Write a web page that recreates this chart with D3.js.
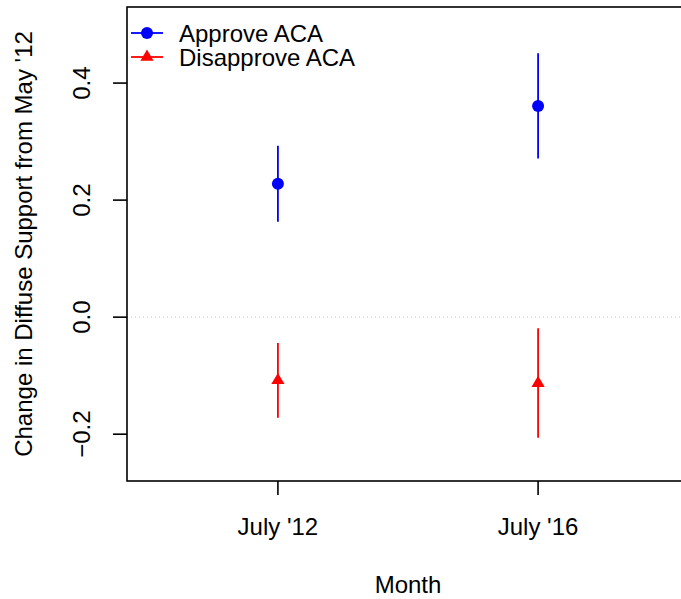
<!DOCTYPE html>
<html>
<head>
<meta charset="utf-8">
<script src="https://cdn.jsdelivr.net/npm/d3@7"></script>
<style>
  body { margin: 0; background: #fff; }
  svg { display: block; font-family: "Liberation Sans", Arial, sans-serif; }
  .tick-label, .axis-title, .legend-label { font-size: 24px; fill: #000; }
</style>
</head>
<body>
<div id="chart"></div>
<script>
// Data
var months = ["July '12", "July '16"];
var groups = ["Approve ACA", "Disapprove ACA"];
var approveEst = [0.228, 0.361];
var approveLow = [0.163, 0.271];
var approveHigh = [0.293, 0.451];
var disapproveEst = [-0.108, -0.113];
var disapproveLow = [-0.172, -0.206];
var disapproveHigh = [-0.044, -0.019];
var yTicks = [-0.2, 0.0, 0.2, 0.4];

var width = 681,
    height = 599,
    margin = { top: 7, right: -8, bottom: 118, left: 127 };

var svg = d3.select('#chart')
  .append('svg')
    .attr('width', width)
    .attr('height', height);

// R style: xlim c(0.5, 2.5), ylim c(-0.25, 0.5), 4% padding
var x = d3.scaleLinear()
  .domain([0.42, 2.58])
  .range([margin.left, width - margin.right]);

var y = d3.scaleLinear()
  .domain([-0.28, 0.53])
  .range([height - margin.bottom, margin.top]);

var plotTop = y.range()[1], plotBottom = y.range()[0];

// Zero reference line
svg.append('line')
  .attr('x1', x.range()[0])
  .attr('x2', x.range()[1])
  .attr('y1', y(0))
  .attr('y2', y(0))
  .attr('stroke', '#c8c8c8')
  .attr('stroke-width', 1)
  .attr('stroke-dasharray', '1,3');

// Series
var series = [
  { name: groups[0], color: '#0000ff', shape: d3.symbolCircle, est: approveEst, lo: approveLow, hi: approveHigh },
  { name: groups[1], color: '#ff0000', shape: 'triangle', est: disapproveEst, lo: disapproveLow, hi: disapproveHigh }
];

function drawMarker(g, s, cx, cy) {
  if (s.shape === 'triangle') {
    // R pch 17: apex r above centre, base r/2 below
    var r = 7.4, h = 6.6;
    g.append('path')
      .attr('d', 'M' + cx + ',' + (cy - r) + 'L' + (cx + h) + ',' + (cy + r / 2) + 'L' + (cx - h) + ',' + (cy + r / 2) + 'Z')
      .attr('fill', s.color);
  } else {
    g.append('circle')
      .attr('cx', cx)
      .attr('cy', cy)
      .attr('r', 6)
      .attr('fill', s.color);
  }
}

series.forEach(function(s){
  var g = svg.append('g');
  s.est.forEach(function(v, i){
    g.append('line')
      .attr('x1', x(i + 1)).attr('x2', x(i + 1))
      .attr('y1', y(s.lo[i])).attr('y2', y(s.hi[i]))
      .attr('stroke', s.color)
      .attr('stroke-width', 1.8);
    drawMarker(g, s, x(i + 1), y(v));
  });
});

// Box
svg.append('rect')
  .attr('x', x.range()[0])
  .attr('y', plotTop)
  .attr('width', x.range()[1] - x.range()[0])
  .attr('height', plotBottom - plotTop)
  .attr('fill', 'none')
  .attr('stroke', '#000')
  .attr('stroke-width', 1.6);

// Y axis
var yAxis = svg.append('g');
yTicks.forEach(function(t){
  yAxis.append('line')
    .attr('x1', x.range()[0] - 14).attr('x2', x.range()[0])
    .attr('y1', y(t)).attr('y2', y(t))
    .attr('stroke', '#000').attr('stroke-width', 1.6);
  yAxis.append('text')
    .attr('class', 'tick-label')
    .attr('transform', 'translate(90,' + y(t) + ') rotate(-90)')
    .attr('text-anchor', 'middle')
    .text(t === 0 ? '0.0' : d3.format('.1f')(t).replace('-', '\u2212'));
});

// X axis
var xAxis = svg.append('g');
months.forEach(function(m, i){
  xAxis.append('line')
    .attr('x1', x(i + 1)).attr('x2', x(i + 1))
    .attr('y1', plotBottom).attr('y2', plotBottom + 14)
    .attr('stroke', '#000').attr('stroke-width', 1.6);
  xAxis.append('text')
    .attr('class', 'tick-label')
    .attr('x', x(i + 1))
    .attr('y', 535)
    .attr('text-anchor', 'middle')
    .text(m);
});

// Axis titles
var midX = (x.range()[0] + x.range()[1]) / 2;
svg.append('text')
  .attr('class', 'axis-title')
  .attr('x', midX)
  .attr('y', 593)
  .attr('text-anchor', 'middle')
  .text('Month');

svg.append('text')
  .attr('class', 'axis-title')
  .attr('transform', 'translate(32,' + ((plotTop + plotBottom) / 2) + ') rotate(-90)')
  .attr('text-anchor', 'middle')
  .text("Change in Diffuse Support from May '12");

// Legend
var legend = svg.append('g');
series.forEach(function(s, i){
  var ly = 33 + i * 24;
  legend.append('line')
    .attr('x1', 131).attr('x2', 163)
    .attr('y1', ly).attr('y2', ly)
    .attr('stroke', s.color).attr('stroke-width', 1.8);
  drawMarker(legend, s, 147, ly);
  legend.append('text')
    .attr('class', 'legend-label')
    .attr('x', 179)
    .attr('y', ly + 9)
    .text(s.name);
});
</script>
</body>
</html>
